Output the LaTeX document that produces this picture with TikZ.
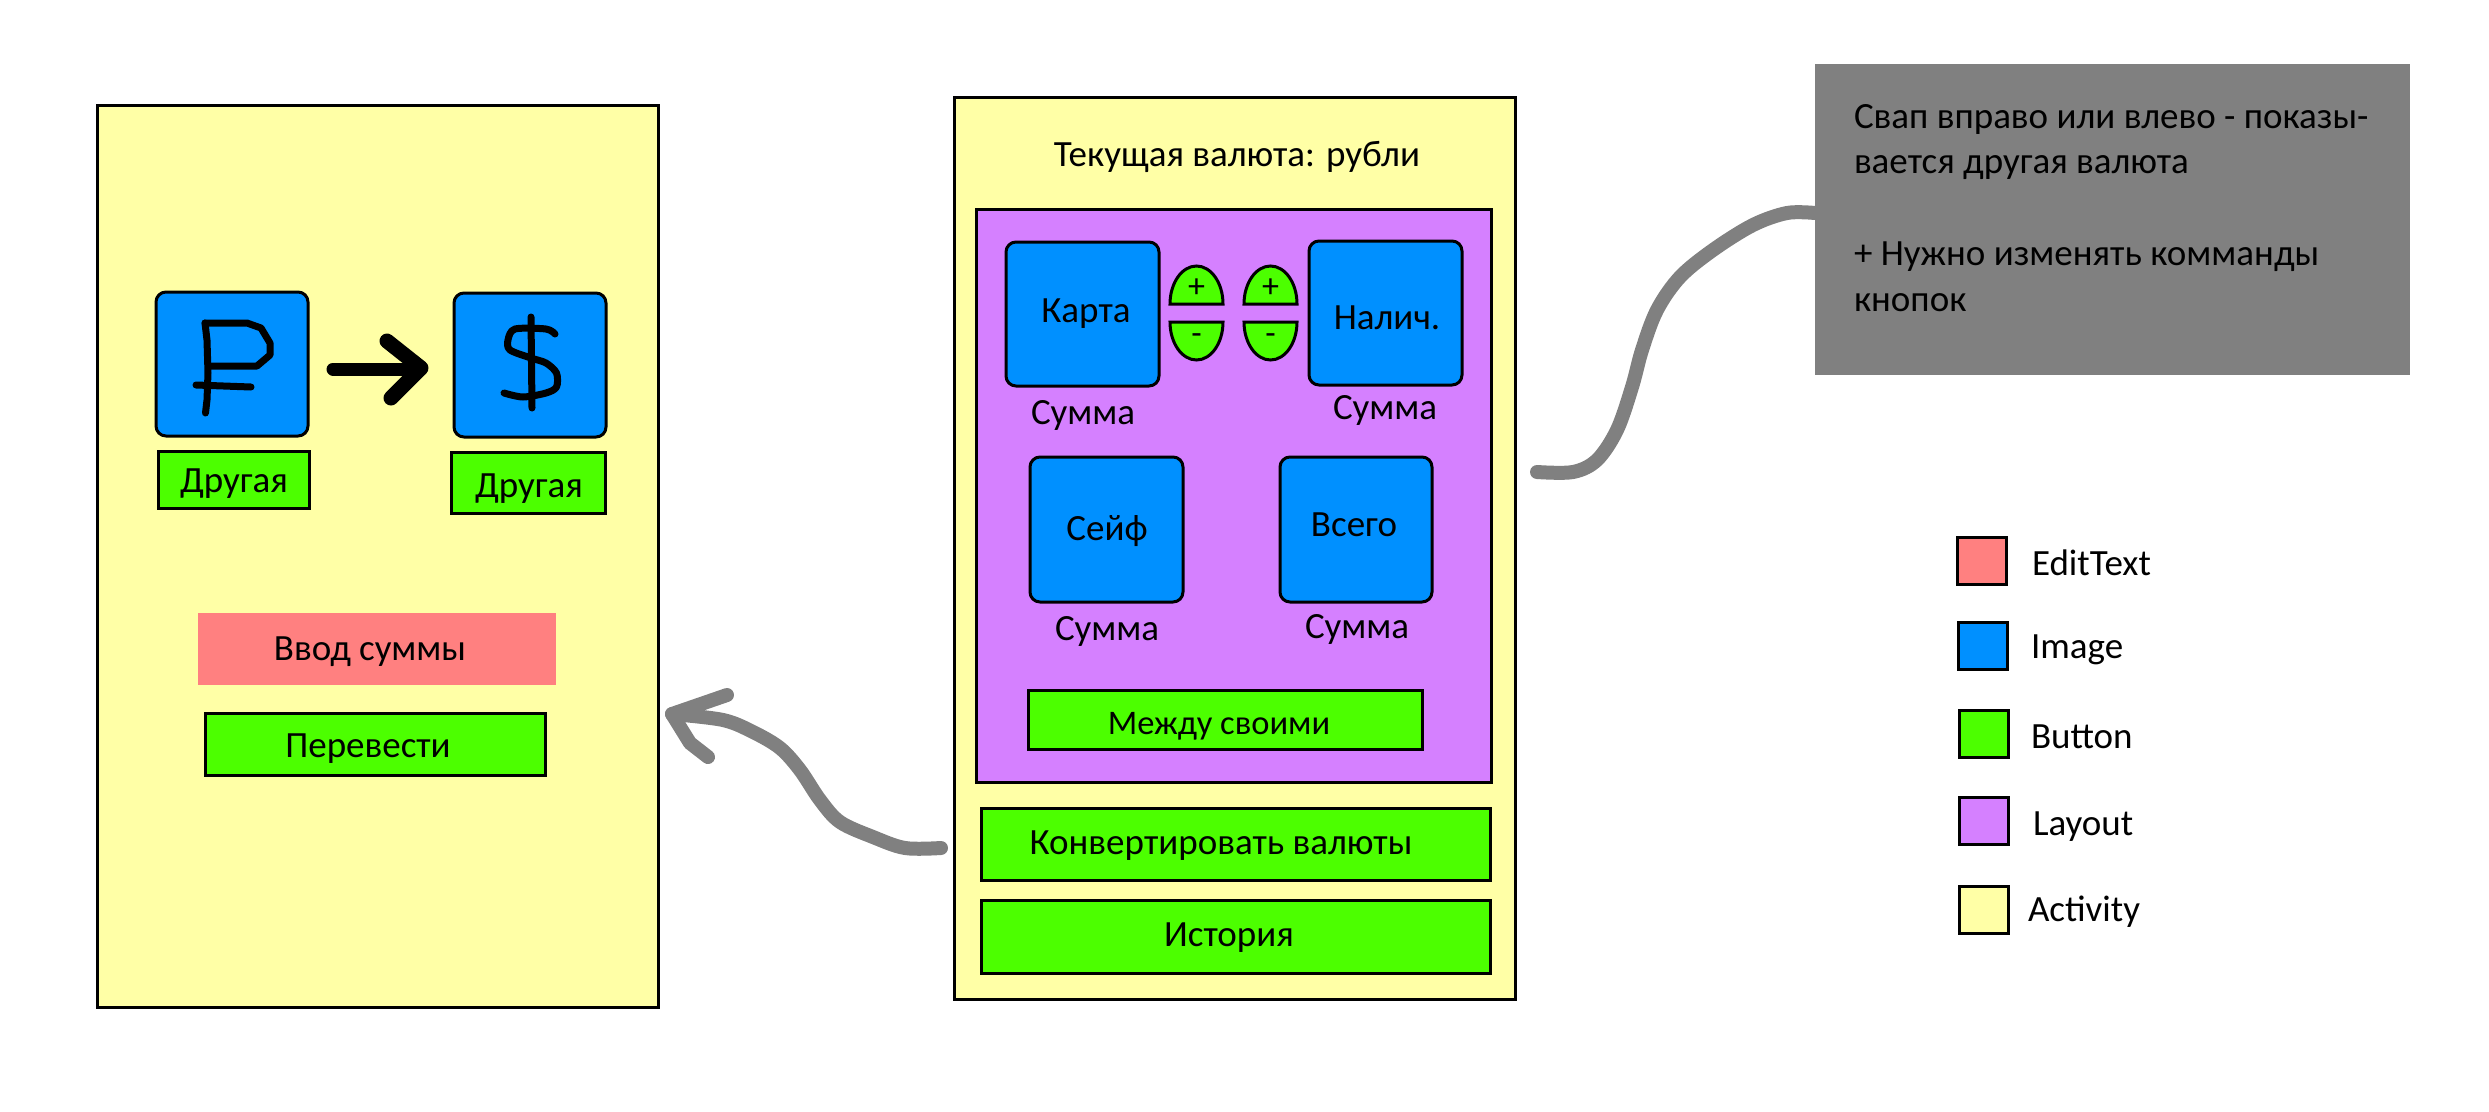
\documentclass[tikz,border=0pt]{standalone}
\usepackage{fontspec}
\setmainfont{Carlito}
\definecolor{actcol}{HTML}{FFFFA6}
\definecolor{laycol}{HTML}{D580FF}
\definecolor{imgcol}{HTML}{0090FF}
\definecolor{btncol}{HTML}{4CFF00}
\definecolor{edtcol}{HTML}{FF8080}
\definecolor{notecol}{HTML}{808080}
\newcommand{\bx}[6]{\node[#1,minimum width={#4-#2},minimum height={#5-#3},anchor=north west] (#6) at (#2,#3) {};}
\tikzset{
  box/.style={draw=black,line width=3pt,inner sep=0pt,outer sep=0pt},
  actbox/.style={box,fill=actcol},
  laybox/.style={box,fill=laycol},
  imgbox/.style={box,fill=imgcol,rounded corners=10pt},
  btnbox/.style={box,fill=btncol},
  edtbox/.style={inner sep=0pt,outer sep=0pt,fill=edtcol},
  lgdred/.style={box,fill=edtcol},
  notebox/.style={inner sep=0pt,outer sep=0pt,fill=notecol},
  lbl/.style={inner sep=0pt,outer sep=0pt,font=\fontsize{37}{44}\selectfont,anchor=base},
  lgl/.style={lbl,anchor=base west},
  sgn/.style={inner sep=0pt,outer sep=0pt,font=\fontsize{34}{34}\selectfont},
  half/.style={draw=black,line width=3pt,fill=btncol},
  ink/.style={draw=black,line width=7pt,line cap=round,line join=round},
  bigink/.style={draw=black,line width=13pt,line cap=round,line join=round},
  wire/.style={draw=notecol,line width=14pt,line cap=round,line join=round}
}
\begin{document}
\begin{tikzpicture}[x=1pt,y=-1pt]
\useasboundingbox (0,0) rectangle (2489,1111);
% left activity
\bx{actbox}{97}{105}{658}{1007}{actL}
\bx{imgbox}{156}{292}{308}{436}{imgR}
\bx{imgbox}{454}{293}{606}{437}{imgD}
\bx{btnbox}{158}{451}{309}{508}{btnR}
\bx{btnbox}{451}{452}{605}{513}{btnD}
\node[lbl] (tR) at (234,492) {Другая};
\node[lbl] (tD) at (529,497) {Другая};
\bx{edtbox}{198}{613}{556}{685}{edt}
\node[lbl] (tE) at (370,660) {Ввод суммы};
\bx{btnbox}{205}{713}{545}{775}{btnT}
\node[lbl] (tT) at (368,757) {Перевести};
% ruble
\draw[ink] (205,323) -- (207,340) -- (208,373) -- (207,400) -- (205.5,413);
\draw[ink] (205,323) -- (247,323) -- (261,328) -- (270,343) -- (270,355) -- (257,366) -- (209,366);
\draw[ink] (196,385) -- (251,387);
% dollar
\draw[ink] (531,317) -- (532,408);
\draw[ink] plot[smooth,tension=0.5] coordinates {(555,334) (546,329) (515,329) (508,340) (510,350) (531,358) (546,363) (556.5,373) (556.5,387) (546,393) (523,397) (504,393)};
% black arrow
\draw[bigink] ([xshift=25]imgR.east |- 0,369) -- (421,369);
\draw[bigink,line width=15pt] (387,341) -- (421,368) -- (391,398);
% right activity
\bx{actbox}{954}{97}{1515}{999}{actM}
\node[lbl] (tC) at (1237,166) {Текущая валюта: рубли};
\bx{laybox}{976}{209}{1491}{782}{lay}
\bx{imgbox}{1006}{242}{1159}{386}{imK}
\bx{imgbox}{1309}{241}{1462}{385}{imN}
\bx{imgbox}{1030}{457}{1183}{602}{imS}
\bx{imgbox}{1280}{457}{1432}{602}{imA}
\node[lbl] (tK) at (1086,322) {Карта};
\node[lbl] (tN) at (1387,329) {Налич.};
\node[lbl] (tS) at (1107,540) {Сейф};
\node[lbl] (tA) at (1354,536) {Всего};
\node[lbl] (s1) at (1083,424) {Сумма};
\node[lbl] (s2) at (1385,419) {Сумма};
\node[lbl] (s3) at (1107,640) {Сумма};
\node[lbl] (s4) at (1357,638) {Сумма};
% plus / minus
\draw[half] (1170,304) arc[start angle=180,end angle=360,x radius=26.5,y radius=38] -- cycle;
\draw[half] (1170,322) arc[start angle=180,end angle=0,x radius=26.5,y radius=38] -- cycle;
\draw[half] (1244,304) arc[start angle=180,end angle=360,x radius=26.5,y radius=38] -- cycle;
\draw[half] (1244,322) arc[start angle=180,end angle=0,x radius=26.5,y radius=38] -- cycle;
\node[sgn] (p1) at (1196.5,288) {+};
\node[sgn] (m1) at (1196.5,339) {-};
\node[sgn] (p2) at (1270.5,288) {+};
\node[sgn] (m2) at (1270.5,339) {-};
\bx{btnbox}{1028}{690}{1422}{749}{btnM}
\node[lbl,font=\fontsize{34.5}{40}\selectfont] (tM) at (1219,734) {Между своими};
\bx{btnbox}{981}{808}{1490}{880}{btnC}
\node[lbl] (tV) at (1221,854) {Конвертировать валюты};
\bx{btnbox}{981}{900}{1490}{973}{btnH}
\node[lbl] (tH) at (1229,946) {История};
% note
\bx{notebox}{1815}{64}{2410}{375}{note}
\node[inner sep=0pt,outer sep=0pt,anchor=north west,align=left,font=\fontsize{37}{45.75}\selectfont] (tN2) at (1854,104) {Свап вправо или влево - показы-\\вается другая валюта\\\ \\+ Нужно изменять комманды\\кнопок};
% legend
\bx{lgdred}{1957}{537}{2006}{584}{l1}
\bx{imgbox,rounded corners=0pt}{1958}{622}{2007}{669}{l2}
\bx{btnbox}{1959}{710}{2008}{757}{l3}
\bx{laybox}{1959}{797}{2008}{844}{l4}
\bx{actbox}{1959}{886}{2008}{933}{l5}
\node[lgl] (ll1) at (2032,575) {EditText};
\node[lgl] (ll2) at (2031,658) {Image};
\node[lgl] (ll3) at (2031,748) {Button};
\node[lgl] (ll4) at (2033,835) {Layout};
\node[lgl] (ll5) at (2028,921) {Activity};
% grey connectors
\coordinate (a1) at (actM.west |- 0,848);
\coordinate (a2) at (actL.east |- 0,714);
\draw[wire] plot[smooth,tension=0.55] coordinates {([xshift=-13]a1) (905,848) (873,837) (840,822) (820,800) (800,770) (780,748) (753,732) (723,720) ([xshift=14]a2)};
\draw[wire] (727,695) -- ([xshift=14]a2) -- (690,743) -- (708,757);
\coordinate (n1) at (note.west |- 0,213);
\draw[wire] plot[smooth,tension=0.55] coordinates {(n1) (1787,213) (1753,225) (1713,250) (1680,277) (1657,310) (1642,350) (1632,387) (1617,430) (1597,460) (1573,472) (1537,472)};
\end{tikzpicture}
\end{document}
